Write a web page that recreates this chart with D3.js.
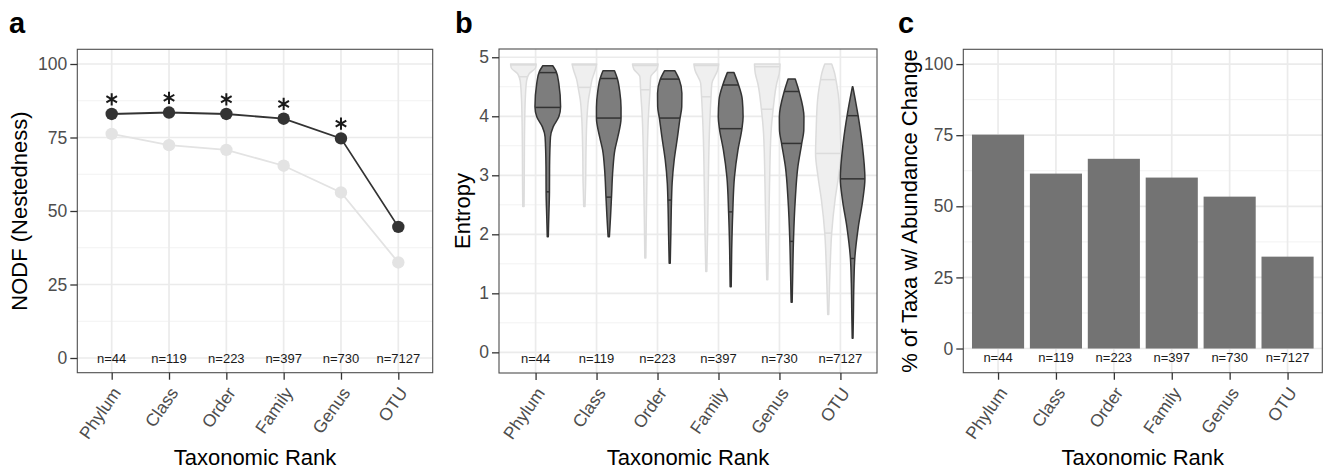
<!DOCTYPE html>
<html>
<head>
<meta charset="utf-8">
<script src="https://cdn.jsdelivr.net/npm/d3@7"></script>
<style>
  body { margin: 0; background: #fff; }
  svg { display: block; font-family: "Liberation Sans", Arial, sans-serif; }
</style>
</head>
<body>
<svg width="1323" height="471"></svg>
<script>
// shared categories
var ranks = ["Phylum", "Class", "Order", "Family", "Genus", "OTU"];
var nLabels = ["n=44", "n=119", "n=223", "n=397", "n=730", "n=7127"];

// panel a - NODF
var nodfObserved = [83.0, 83.5, 83.0, 81.4, 74.7, 44.6];
var nodfNull = [76.2, 72.4, 70.8, 65.4, 56.3, 32.5];
var nodfSignif = [true, true, true, true, true, false];
var pctTicks = [0, 25, 50, 75, 100];
var pctMinor = [12.5, 37.5, 62.5, 87.5];

// panel b - entropy violins, outline as [entropy, relative width], top to bottom
var violinNull = [
  [[4.885,1.0],[4.82,0.95],[4.72,0.45],[4.6,0.25],[4.3,0.15],[4.0,0.11],[3.5,0.08],[3.0,0.07],[2.47,0.05]],
  [[4.885,0.96],[4.78,0.84],[4.63,0.61],[4.47,0.47],[4.28,0.32],[3.99,0.21],[3.43,0.13],[2.87,0.1],[2.47,0.05]],
  [[4.885,1.0],[4.8,0.9],[4.67,0.42],[4.45,0.37],[3.99,0.24],[3.43,0.16],[2.87,0.12],[2.3,0.08],[1.6,0.04]],
  [[4.885,0.97],[4.78,0.88],[4.56,0.44],[4.33,0.37],[3.71,0.24],[2.87,0.16],[2.02,0.1],[1.37,0.04]],
  [[4.885,1.0],[4.73,0.94],[4.56,0.74],[4.12,0.46],[3.71,0.29],[2.87,0.18],[2.02,0.11],[1.23,0.04]],
  [[4.885,0.27],[4.73,0.5],[4.62,0.6],[4.28,0.83],[3.71,0.95],[3.37,0.99],[2.98,0.8],[2.58,0.53],[2.02,0.27],[1.45,0.15],[0.64,0.04]]
];
var violinObserved = [
  [[4.856,0.39],[4.76,0.65],[4.56,0.86],[4.16,1.0],[3.99,0.86],[3.82,0.42],[3.65,0.21],[3.15,0.14],[2.7,0.13],[2.3,0.08],[1.96,0.04]],
  [[4.77,0.45],[4.64,0.67],[4.42,0.86],[4.15,0.96],[3.97,0.96],[3.65,0.71],[3.43,0.48],[3.09,0.32],[2.65,0.22],[2.3,0.14],[1.96,0.05]],
  [[4.77,0.41],[4.62,0.75],[4.39,0.95],[4.16,0.94],[3.96,0.8],[3.65,0.61],[3.26,0.35],[2.87,0.19],[2.57,0.14],[2.02,0.09],[1.51,0.04]],
  [[4.74,0.26],[4.56,0.57],[4.28,0.91],[3.99,0.97],[3.79,0.88],[3.43,0.57],[2.98,0.3],[2.36,0.16],[1.74,0.08],[1.11,0.04]],
  [[4.63,0.28],[4.42,0.58],[3.99,0.96],[3.77,0.95],[3.53,0.78],[3.15,0.49],[2.58,0.28],[1.88,0.14],[1.29,0.08],[0.85,0.04]],
  [[4.5,0.02],[4.28,0.21],[4.01,0.43],[3.54,0.74],[2.94,0.96],[2.58,0.79],[2.13,0.45],[1.59,0.17],[1.17,0.1],[0.61,0.06],[0.24,0.03]]
];
// quartile lines (75%, 50%, 25%)
var quantNull = [[4.87,4.67,null],[4.87,4.49,null],[4.86,4.45,null],[4.86,4.33,null],[4.84,4.12,null],[4.62,3.37,2.02]];
var quantObserved = [[4.74,4.15,2.72],[4.64,3.97,2.63],[4.63,3.97,2.58],[4.53,3.79,2.38],[4.42,3.54,1.88],[4.01,2.94,1.59]];
var entropyTicks = [0, 1, 2, 3, 4, 5];
var entropyMinor = [0.5, 1.5, 2.5, 3.5, 4.5];

// panel c - % taxa with abundance change
var pctChange = [75.2, 61.5, 66.7, 60.1, 53.4, 32.3];

var svg = d3.select("svg");

// builds the ggplot-ish theme_bw frame, returns scales and a layer for marks
function panel(o) {
  var x = d3.scalePoint().domain(ranks).range([o.left, o.right]).padding(0.6);
  var y = d3.scaleLinear().domain(o.domain).range([o.bottom, o.top]);
  var g = svg.append("g");

  var grid = g.append("g");
  grid.selectAll(".minor").data(o.minor).enter().append("line")
    .attr("x1", o.left).attr("x2", o.right)
    .attr("y1", function(d) { return y(d); }).attr("y2", function(d) { return y(d); })
    .attr("stroke", "#f2f2f2").attr("stroke-width", 1);
  grid.selectAll(".major").data(o.ticks).enter().append("line")
    .attr("x1", o.left).attr("x2", o.right)
    .attr("y1", function(d) { return y(d); }).attr("y2", function(d) { return y(d); })
    .attr("stroke", "#ebebeb").attr("stroke-width", 1.7);
  grid.selectAll(".vmajor").data(ranks).enter().append("line")
    .attr("y1", o.top).attr("y2", o.bottom)
    .attr("x1", function(d) { return x(d); }).attr("x2", function(d) { return x(d); })
    .attr("stroke", "#ebebeb").attr("stroke-width", 1.7);

  var marks = g.append("g");
  var over = g.append("g");

  over.append("rect")
    .attr("x", o.left).attr("y", o.top)
    .attr("width", o.right - o.left).attr("height", o.bottom - o.top)
    .attr("fill", "none").attr("stroke", "#4d4d4d").attr("stroke-width", 1.1);

  var ay = over.append("g").attr("transform", "translate(" + o.left + ",0)")
    .call(d3.axisLeft(y).tickValues(o.ticks).tickFormat(d3.format("d")).tickSize(7).tickPadding(3));
  var ax = over.append("g").attr("transform", "translate(0," + o.bottom + ")")
    .call(d3.axisBottom(x).tickSize(7).tickFormat(""));
  [ay, ax].forEach(function(a) {
    a.select(".domain").remove();
    a.selectAll(".tick line").attr("stroke", "#333").attr("stroke-width", 1.3);
  });
  ay.selectAll("text").attr("fill", "#4d4d4d").style("font-size", "17.5px")
    .style("font-family", "Liberation Sans, Arial, sans-serif");

  var ly = o.bottom + 13;
  over.selectAll(".xlab").data(ranks).enter().append("text")
    .attr("x", function(d) { return x(d); }).attr("y", ly)
    .attr("transform", function(d) { return "rotate(-55," + x(d) + "," + ly + ")"; })
    .attr("text-anchor", "end").attr("dy", "0.7em")
    .attr("fill", "#4d4d4d").style("font-size", "17.5px")
    .text(function(d) { return d; });

  over.selectAll(".nlab").data(nLabels).enter().append("text")
    .attr("x", function(d, i) { return x(ranks[i]); })
    .attr("y", y(o.nAt)).attr("dy", "0.35em")
    .attr("text-anchor", "middle").attr("fill", "#1a1a1a")
    .style("font-size", "13px")
    .text(function(d) { return d; });

  over.append("text")
    .attr("x", (o.left + o.right) / 2).attr("y", 465)
    .attr("text-anchor", "middle").style("font-size", "22px").attr("fill", "#000")
    .text("Taxonomic Rank");
  over.append("text")
    .attr("transform", "translate(" + o.titleX + "," + ((o.top + o.bottom) / 2) + ") rotate(-90)")
    .attr("text-anchor", "middle").style("font-size", "22px").attr("fill", "#000")
    .text(o.title);
  over.append("text")
    .attr("x", o.letterX).attr("y", 33)
    .style("font-size", "29px").style("font-weight", "bold").attr("fill", "#000")
    .text(o.letter);

  return { x: x, y: y, g: marks };
}

// ---- panel a
var pa = panel({ left: 77.3, right: 432.7, top: 49.3, bottom: 372.7, domain: [-5, 105],
  ticks: pctTicks, minor: pctMinor, nAt: 0, title: "NODF (Nestedness)", titleX: 27,
  letter: "a", letterX: 9 });

var lineA = d3.line()
  .x(function(d, i) { return pa.x(ranks[i]); })
  .y(function(d) { return pa.y(d); });

pa.g.append("path").datum(nodfNull).attr("d", lineA)
  .attr("fill", "none").attr("stroke", "#e3e3e3").attr("stroke-width", 1.8);
pa.g.selectAll(".nulldot").data(nodfNull).enter().append("circle")
  .attr("cx", function(d, i) { return pa.x(ranks[i]); }).attr("cy", function(d) { return pa.y(d); })
  .attr("r", 6.2).attr("fill", "#e3e3e3");
pa.g.append("path").datum(nodfObserved).attr("d", lineA)
  .attr("fill", "none").attr("stroke", "#333").attr("stroke-width", 1.8);
pa.g.selectAll(".obsdot").data(nodfObserved).enter().append("circle")
  .attr("cx", function(d, i) { return pa.x(ranks[i]); }).attr("cy", function(d) { return pa.y(d); })
  .attr("r", 6.2).attr("fill", "#333");
pa.g.selectAll(".star").data(nodfObserved.filter(function(d, i) { return nodfSignif[i]; })).enter()
  .append("path")
  .attr("d", d3.symbol(d3.symbolAsterisk).size(105))
  .attr("transform", function(d, i) { return "translate(" + pa.x(ranks[i]) + "," + pa.y(d + 5) + ")"; })
  .attr("fill", "none").attr("stroke", "#1a1a1a").attr("stroke-width", 2);

// ---- panel b
var pb = panel({ left: 499, right: 877, top: 49, bottom: 373, domain: [-0.35, 5.14],
  ticks: entropyTicks, minor: entropyMinor, nAt: -0.1, title: "Entropy", titleX: 470,
  letter: "b", letterX: 455 });

var stepB = pb.x.step();
var halfW = d3.scaleLinear().domain([0, 1]).range([0, 0.21 * stepB]);

function drawViolins(profiles, quants, shift, fill, stroke) {
  profiles.forEach(function(prof, i) {
    var cx = pb.x(ranks[i]) + shift * stepB;
    var area = d3.area()
      .y(function(d) { return pb.y(d[0]); })
      .x0(function(d) { return cx - halfW(d[1]); })
      .x1(function(d) { return cx + halfW(d[1]); })
      .curve(d3.curveMonotoneY);
    pb.g.append("path").datum(prof).attr("d", area)
      .attr("fill", fill).attr("stroke", stroke).attr("stroke-width", 1.5)
      .attr("stroke-linejoin", "round");
    var widthAt = d3.scaleLinear()
      .domain(prof.map(function(d) { return d[0]; }))
      .range(prof.map(function(d) { return d[1]; }));
    quants[i].filter(function(q) { return q !== null; }).forEach(function(q) {
      var w = halfW(widthAt(q));
      pb.g.append("line")
        .attr("x1", cx - w).attr("x2", cx + w)
        .attr("y1", pb.y(q)).attr("y2", pb.y(q))
        .attr("stroke", stroke).attr("stroke-width", 1.5);
    });
  });
}
drawViolins(violinNull, quantNull, -0.2, "#efefef", "#dcdcdc");
drawViolins(violinObserved, quantObserved, 0.2, "#7d7d7d", "#333");

// ---- panel c
var pc = panel({ left: 963.3, right: 1322.3, top: 49.3, bottom: 372.7, domain: [-8.5, 105.2],
  ticks: pctTicks, minor: pctMinor, nAt: -3.3, title: "% of Taxa w/ Abundance Change", titleX: 916.5,
  letter: "c", letterX: 898 });

var barW = 0.9 * pc.x.step();
pc.g.selectAll(".bar").data(pctChange).enter().append("rect")
  .attr("x", function(d, i) { return pc.x(ranks[i]) - barW / 2; })
  .attr("width", barW)
  .attr("y", function(d) { return pc.y(d); })
  .attr("height", function(d) { return pc.y(0) - pc.y(d); })
  .attr("fill", "#737373");
</script>
</body>
</html>
